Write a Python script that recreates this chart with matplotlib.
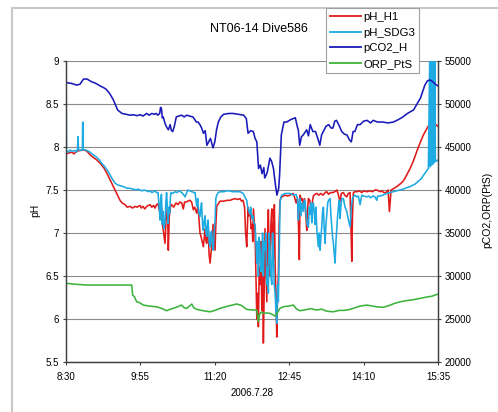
import matplotlib
matplotlib.use("Agg")
import matplotlib.pyplot as plt
from matplotlib.patches import Rectangle
from matplotlib.lines import Line2D

# ---------------- data (time = minutes after 8:30) ----------------
ph_h1_t = [0, 3, 6.9, 9, 12.2, 16, 19.8, 22, 24, 27.4, 31, 35.1, 40, 43, 46.5, 50.3, 54.1, 58.3, 61.7, 64,
           67.4, 70, 73.1, 76, 78.9, 81, 84.6, 86, 88, 90, 92.2, 94, 96, 98, 100, 101.7, 103.5, 105.1, 107.4, 109.1,
           110.2, 111.2, 112.2, 113.1, 114.3, 116, 116.9, 118, 119.5, 120.8, 123, 125.7, 128, 130, 132.2, 134, 135.5,
           137.1, 139, 141.7, 143.5, 145.5, 147, 149.4, 150.9, 152, 153.1, 154.5, 156.9, 158, 158.9, 160, 160.8,
           162.3, 163.5, 164.6, 165.8, 166.9, 168, 169.2, 170.3, 171, 172.2, 174, 176, 180, 184, 187.4, 190, 193.1,
           196, 198.9, 200.5, 202.3, 204, 205.2, 206.5, 207.3, 208, 209, 210.3, 211.5, 212.6, 213.4, 214.1, 215,
           216, 217, 218, 218.9, 219.8, 220.7, 221.7, 222.7, 223.7, 224.6, 225.5, 226.4, 227.4, 228.4, 229.4, 230.3,
           231.2, 232.1, 233.1, 234.1, 235.1, 236, 236.9, 237.5, 238.1, 239, 240, 240.8, 241.7, 242.6, 243.5, 244.5,
           246.5, 248.5, 250.3, 253, 256, 259.4, 261, 262.9, 264.5, 265.6, 266.6, 267.4, 269, 270, 271.2, 272.5,
           274, 275.1, 276.2, 276.9, 278.5, 279.5, 280.8, 281.7, 282.6, 284.5, 286.5, 289, 291, 293.7, 296, 297.9,
           300, 302, 305.1, 307, 309.4, 311, 313.1, 314.5, 316.9, 318.5, 320.8, 322.5, 324.5, 325.5, 326.5, 327.3,
           328.3, 330, 332.2, 335, 338, 340, 343.7, 347, 350, 353, 355.1, 357, 358.9, 361, 363, 365.7, 368, 369.5,
           371.4, 375, 378, 381.7, 385, 387.4, 390, 393.1, 396.6, 400.8, 404.6, 408.3, 412.6, 415, 417.9, 420.6,
           422.5, 425]
ph_h1_v = [7.92, 7.93, 7.94, 7.92, 7.95, 7.96, 7.965, 7.96, 7.95, 7.91, 7.88, 7.85, 7.80, 7.76, 7.70, 7.62, 7.54,
           7.45, 7.38, 7.35, 7.33, 7.30, 7.31, 7.29, 7.31, 7.30, 7.32, 7.29, 7.31, 7.28, 7.31, 7.32, 7.33, 7.30,
           7.32, 7.29, 7.33, 7.34, 7.23, 7.30, 7.10, 7.03, 6.95, 6.88, 7.15, 7.30, 6.80, 7.20, 7.31, 7.33, 7.30,
           7.35, 7.33, 7.36, 7.35, 7.28, 7.36, 7.36, 7.37, 7.38, 7.36, 7.27, 7.30, 7.23, 7.33, 7.15, 7.00, 6.95,
           6.84, 6.96, 7.05, 6.90, 6.88, 7.10, 6.75, 6.65, 6.78, 6.90, 7.10, 6.95, 6.80, 7.05, 7.31, 7.34, 7.37,
           7.37, 7.38, 7.38, 7.39, 7.40, 7.39, 7.40, 7.37, 7.38, 7.30, 7.00, 6.84, 7.10, 7.30, 7.20, 7.25, 7.05,
           7.10, 6.90, 7.28, 7.15, 7.00, 6.50, 6.00, 6.30, 5.91, 6.60, 6.40, 6.90, 6.10, 6.50, 5.72, 6.30, 7.05,
           6.60, 6.20, 6.90, 7.27, 6.70, 6.50, 7.10, 7.28, 6.90, 6.70, 7.20, 7.33, 6.60, 6.20, 5.79, 6.30, 6.50,
           7.10, 7.38, 7.42, 7.43, 7.44, 7.43, 7.44, 7.46, 7.42, 7.35, 7.40, 7.10, 6.69, 7.44, 7.38, 7.40, 7.33,
           7.40, 7.20, 7.03, 7.30, 7.40, 7.38, 7.30, 7.20, 7.38, 7.43, 7.45, 7.46, 7.44, 7.46, 7.44, 7.47, 7.48,
           7.45, 7.47, 7.47, 7.48, 7.50, 7.45, 7.36, 7.46, 7.47, 7.44, 7.42, 7.46, 7.47, 7.10, 6.67, 7.20, 7.47,
           7.48, 7.48, 7.49, 7.47, 7.49, 7.48, 7.49, 7.48, 7.50, 7.50, 7.49, 7.48, 7.49, 7.47, 7.47, 7.50, 7.25,
           7.50, 7.52, 7.54, 7.57, 7.60, 7.64, 7.69, 7.75, 7.83, 7.95, 8.05, 8.14, 8.22, 8.26, 8.28, 8.28, 8.26,
           8.24]

ph_sdg3_t = [0, 0.6, 2.5, 4.6, 7, 10.3, 12, 13.1, 13.7, 14.3, 16.5, 18.7, 19.1, 19.5, 21.7, 24, 27.4, 31, 35.1,
             38, 40.8, 43.5, 46.5, 49, 52.2, 56, 59, 61.7, 65.5, 70, 73, 76.9, 80, 82, 84.6, 87, 89, 92.2, 94, 96,
             98, 100, 101.7, 103.5, 105.1, 106.5, 107.4, 108.3, 109.1, 110, 110.9, 112, 113.1, 114, 114.9, 115.8,
             116.6, 117.5, 118.4, 119.2, 120, 122, 124.6, 127, 129, 132.2, 134, 136, 137.5, 139.4, 141.5, 144, 146,
             147.4, 148.5, 149.4, 150.5, 151.5, 153.1, 154.1, 154.9, 156, 156.9, 158, 158.9, 160, 160.8, 161.5,
             162.3, 163.5, 164.6, 165.5, 166.3, 167.4, 168.3, 169.2, 170.3, 171.2, 172.2, 174, 176, 180, 184, 187.4,
             190, 193.1, 196, 198.9, 200.5, 202.3, 204, 205.2, 206.5, 207.5, 208.3, 210, 211, 212.2, 213.5, 214.5,
             216, 217, 218, 218.9, 219.8, 220.7, 221.7, 222.7, 223.7, 224.6, 225.5, 226.4, 227.4, 228.4, 229.4,
             230.3, 231.2, 232.1, 233.1, 234.1, 235.1, 236, 236.9, 237.9, 238.9, 239.8, 240.8, 241.7, 242.6, 243.6,
             244.6, 245.5, 246.5, 248.5, 250.3, 253, 256, 258, 260, 262.9, 264.5, 265.5, 266.5, 267.4, 268.5, 269.5,
             271.2, 272.2, 273.1, 274, 275.5, 276.9, 278, 278.9, 279.8, 280.8, 281.7, 282.6, 283.5, 284.5, 285.5,
             286.5, 287.4, 288.3, 289.3, 290.3, 291.2, 292.2, 293.1, 294.1, 295, 296, 297, 297.9, 299, 300, 301.7,
             302.7, 303.7, 304.6, 305.5, 306.5, 307.4, 308.4, 309.4, 310.3, 311.2, 312.2, 313.1, 314, 315, 316.9,
             318.8, 320.8, 322.7, 324.6, 326, 327.3, 328.3, 330, 332.2, 334, 336, 337.9, 340, 343.7, 346, 348,
             350.9, 353, 355.1, 356, 358.9, 362, 366.5, 370.3, 374, 378, 381.7, 385, 387.4, 390, 393.1, 396.9, 399,
             402.3, 404.6, 406.5, 408.3, 410.5, 412.6, 414, 415.5, 416.1, 417, 417.6, 418.5, 419.1, 420, 420.6,
             421.5, 422, 423.5, 425]
ph_sdg3_v = [9.0, 7.95, 7.94, 7.965, 7.95, 7.96, 7.94, 7.97, 8.12, 7.97, 7.96, 7.97, 8.29, 7.97, 7.965, 7.96,
             7.94, 7.91, 7.88, 7.85, 7.81, 7.78, 7.74, 7.70, 7.64, 7.58, 7.56, 7.55, 7.54, 7.52, 7.52, 7.51, 7.50,
             7.51, 7.50, 7.49, 7.50, 7.49, 7.48, 7.49, 7.47, 7.48, 7.49, 7.47, 7.47, 7.30, 7.15, 7.40, 7.45, 7.10,
             7.25, 7.05, 7.12, 7.35, 7.47, 7.30, 7.11, 7.30, 7.23, 7.40, 7.47, 7.46, 7.48, 7.47, 7.49, 7.47, 7.45,
             7.42, 7.46, 7.50, 7.49, 7.48, 7.47, 7.47, 7.38, 7.31, 7.40, 7.25, 7.19, 7.30, 7.35, 7.10, 7.03, 7.15,
             7.20, 7.00, 6.96, 7.08, 7.15, 6.90, 6.84, 7.00, 7.02, 6.85, 6.80, 7.00, 7.15, 7.40, 7.44, 7.47, 7.48,
             7.48, 7.49, 7.49, 7.48, 7.48, 7.48, 7.48, 7.47, 7.46, 7.43, 7.40, 7.38, 7.30, 7.28, 7.22, 7.30, 7.17,
             7.20, 7.12, 7.10, 6.90, 6.65, 6.90, 6.50, 6.95, 6.80, 6.55, 6.60, 7.00, 6.50, 6.90, 6.80, 7.00, 6.40,
             6.60, 6.30, 7.00, 6.80, 6.50, 6.40, 7.00, 6.80, 6.40, 6.30, 6.10, 5.95, 6.40, 6.20, 6.80, 7.35, 7.42,
             7.44, 7.45, 7.46, 7.46, 7.46, 7.45, 7.44, 7.45, 7.40, 7.15, 7.35, 7.40, 7.20, 7.35, 7.25, 7.38, 7.38,
             7.25, 7.10, 7.07, 7.30, 7.22, 7.35, 7.12, 7.30, 7.35, 7.25, 7.10, 7.30, 7.05, 6.95, 6.84, 7.00, 6.80,
             6.95, 7.07, 7.25, 7.30, 7.05, 6.88, 7.10, 7.22, 7.35, 7.38, 7.40, 7.20, 7.07, 6.95, 6.88, 6.75, 6.65,
             6.90, 7.05, 7.20, 7.30, 7.38, 7.17, 7.30, 7.40, 7.40, 7.30, 7.25, 7.15, 7.07, 7.30, 7.40, 7.42, 7.44,
             7.42, 7.43, 7.33, 7.44, 7.43, 7.42, 7.43, 7.41, 7.43, 7.42, 7.38, 7.43, 7.43, 7.44, 7.46, 7.47, 7.48,
             7.49, 7.50, 7.51, 7.52, 7.53, 7.54, 7.56, 7.57, 7.60, 7.62, 7.64, 7.67, 7.70, 7.73, 7.75, 9.0, 7.77,
             9.0, 7.79, 9.0, 7.80, 9.0, 7.82, 9.0, 7.83, 7.84, 7.85]

pco2_h_t = [0, 3, 6, 9, 12, 16, 20, 24, 29, 34, 39, 43, 46, 50, 54, 59, 64, 69, 73, 77, 81, 85, 88, 92, 95, 98,
            101, 103, 105, 107, 108, 109, 110, 111, 113, 115, 117, 119, 120.5, 122, 124, 126, 129, 132, 135, 138,
            141, 145, 149, 151, 153, 155, 157, 159, 161, 163, 165, 168, 170, 172, 174, 177, 180, 186, 191, 197,
            203, 206, 208, 211, 214, 216, 218, 220, 222, 224, 226, 227, 229, 230, 233, 235, 237, 239, 241, 243,
            244, 246, 249, 252, 257, 262, 264, 265.5, 267, 269, 271, 275, 277, 279, 282, 285, 288, 290, 292, 294,
            297, 300, 303, 305, 307, 309, 312, 315, 318, 321, 324, 326, 328, 330, 333, 336, 340, 344, 348, 351,
            356, 362, 368, 374, 380, 385, 390, 397, 401, 405, 410, 413, 416, 419, 422, 425]
pco2_h_v = [52500, 52450, 52400, 52300, 52200, 52300, 52900, 52900, 52600, 52400, 52100, 51900, 51700, 51200,
            50500, 49300, 48900, 48800, 48700, 48750, 48650, 48750, 48600, 48900, 48700, 48900, 48800, 48900,
            48700, 48900, 49600, 49500, 48400, 48500, 47800, 47300, 47000, 47600, 46900, 46800, 47500, 48500,
            48600, 48700, 48500, 48700, 48600, 48500, 47900, 47900, 47600, 47200, 46600, 46900, 45200, 45600,
            46000, 44900, 45600, 47000, 47900, 48500, 48800, 48900, 48900, 48800, 48700, 48300, 46600, 46900,
            46800, 46000, 45600, 42500, 42900, 41900, 42600, 41400, 41800, 42100, 43700, 43300, 42500, 40800,
            39400, 40200, 41700, 46400, 47900, 47900, 48200, 48400, 47500, 46900, 45200, 46200, 46400, 47000,
            46300, 47600, 46800, 46800, 45900, 45200, 46400, 46800, 47400, 47600, 47200, 47200, 48000, 48100,
            47500, 46800, 46500, 46400, 45800, 45600, 46800, 46800, 47600, 47600, 48000, 48100, 47800, 48100,
            47900, 47900, 47800, 47900, 48200, 48500, 48900, 49300, 50000, 50700, 52200, 52700, 52800, 52600,
            52300, 52100]

orp_pts_t = [0, 10, 23.7, 50, 75, 76.2, 78, 80.8, 84, 88.3, 95, 103.7, 110, 115, 118, 122.6, 127, 132, 135,
             138, 141, 143.7, 146, 149.4, 155, 160, 164.6, 170, 176, 185, 195, 200, 206.5, 212, 218, 219.8, 221,
             223, 225.5, 229, 233, 236, 239, 242, 244, 248, 254, 259.8, 263, 267.4, 275, 280, 286.5, 292, 298,
             305.5, 312, 318, 324.6, 330, 336, 343.7, 350, 356, 362.6, 370, 375, 381.7, 390, 397, 404.6, 412, 418,
             422, 425]
orp_pts_v = [29150, 29050, 28950, 28950, 28950, 27780, 27600, 27000, 26900, 26620, 26500, 26420, 26200, 25960,
             26100, 26240, 26400, 26620, 26300, 26240, 26500, 26740, 26300, 26120, 26000, 25900, 25840, 26000,
             26240, 26500, 26740, 26600, 26120, 26050, 26040, 24680, 25500, 25800, 25660, 25700, 25660, 25500,
             25340, 25800, 26200, 26420, 26500, 26620, 26200, 25960, 26100, 26200, 26040, 26150, 25900, 25840,
             26000, 26000, 26120, 26300, 26500, 26620, 26500, 26400, 26360, 26600, 26800, 27000, 27150, 27250,
             27400, 27550, 27650, 27800, 27900]

x_ticks = [0, 85, 170, 255, 340, 425]
x_tick_labels = ["8:30", "9:55", "11:20", "12:45", "14:10", "15:35"]
left_ticks = [5.5, 6, 6.5, 7, 7.5, 8, 8.5, 9]
left_tick_labels = ["5.5", "6", "6.5", "7", "7.5", "8", "8.5", "9"]
right_ticks = [20000, 25000, 30000, 35000, 40000, 45000, 50000, 55000]

title = "NT06-14 Dive586"
date_label = "2006.7.28"
series_names = ["pH_H1", "pH_SDG3", "pCO2_H", "ORP_PtS"]
colors = ["#e01a1a", "#1eaae2", "#1a1ab8", "#3cb43c"]

# ---------------- figure ----------------
W, H = 498, 412
fig = plt.figure(figsize=(W / 100, H / 100), dpi=100)
plt.rcParams['font.family'] = ['Liberation Sans', 'DejaVu Sans']

ax1 = fig.add_axes([66 / W, 1 - 362 / H, (438 - 66) / W, (362 - 61) / H])
ax2 = ax1.twinx()

LW = 1.15
ax1.plot(ph_h1_t, ph_h1_v, color=colors[0], lw=LW)
ax1.plot(ph_sdg3_t, ph_sdg3_v, color=colors[1], lw=LW)
ax2.plot(pco2_h_t, pco2_h_v, color=colors[2], lw=LW)
ax2.plot(orp_pts_t, orp_pts_v, color=colors[3], lw=LW)

ax1.set_xlim(0, 425)
ax1.set_ylim(5.5, 9)
ax2.set_ylim(20000, 55000)
ax1.set_xticks(x_ticks)
ax1.set_xticklabels(x_tick_labels)
ax1.set_yticks(left_ticks)
ax1.set_yticklabels(left_tick_labels)
ax2.set_yticks(right_ticks)
ax2.set_yticklabels([str(v) for v in right_ticks])

ax1.grid(axis='y', color='#8a8a8a', lw=0.8)
ax1.set_axisbelow(True)
for ax in (ax1, ax2):
    ax.spines['top'].set_visible(False)
    for s in ('left', 'right', 'bottom'):
        ax.spines[s].set_color('#404040')
        ax.spines[s].set_linewidth(0.9)
    ax.tick_params(labelsize=7, length=2.5, width=0.8, color='#404040', pad=2.5)
ax1.tick_params(axis='x', pad=4.5)

fig.text(259 / W, 1 - 29 / H, title, ha='center', va='center', fontsize=9)
fig.text(252 / W, 1 - 393 / H, date_label, ha='center', va='center', fontsize=7)
fig.text(35 / W, 1 - 210 / H, "pH", rotation=90, ha='center', va='center', fontsize=7.5)
fig.text(487 / W, 1 - 210 / H, "pCO2,ORP(PtS)", rotation=90, ha='center', va='center', fontsize=7.5)

handles = [Line2D([], [], color=c, lw=1.3) for c in colors]
leg = fig.legend(handles, series_names, loc='upper left', bbox_to_anchor=(326 / W, 1 - 8 / H),
                 fontsize=8.2, frameon=True, fancybox=False, framealpha=1, edgecolor='#a0a0a0',
                 handlelength=2.7, handletextpad=0.25, labelspacing=0.5, borderpad=0.35, borderaxespad=0)
leg.get_frame().set_linewidth(0.8)

fig.patches.append(Rectangle((12 / W, -0.1), 1.2, 1.1 - 8 / H, transform=fig.transFigure,
                             fill=False, edgecolor='#c8c8c8', lw=1.5))

fig.savefig("out.png", dpi=100)
